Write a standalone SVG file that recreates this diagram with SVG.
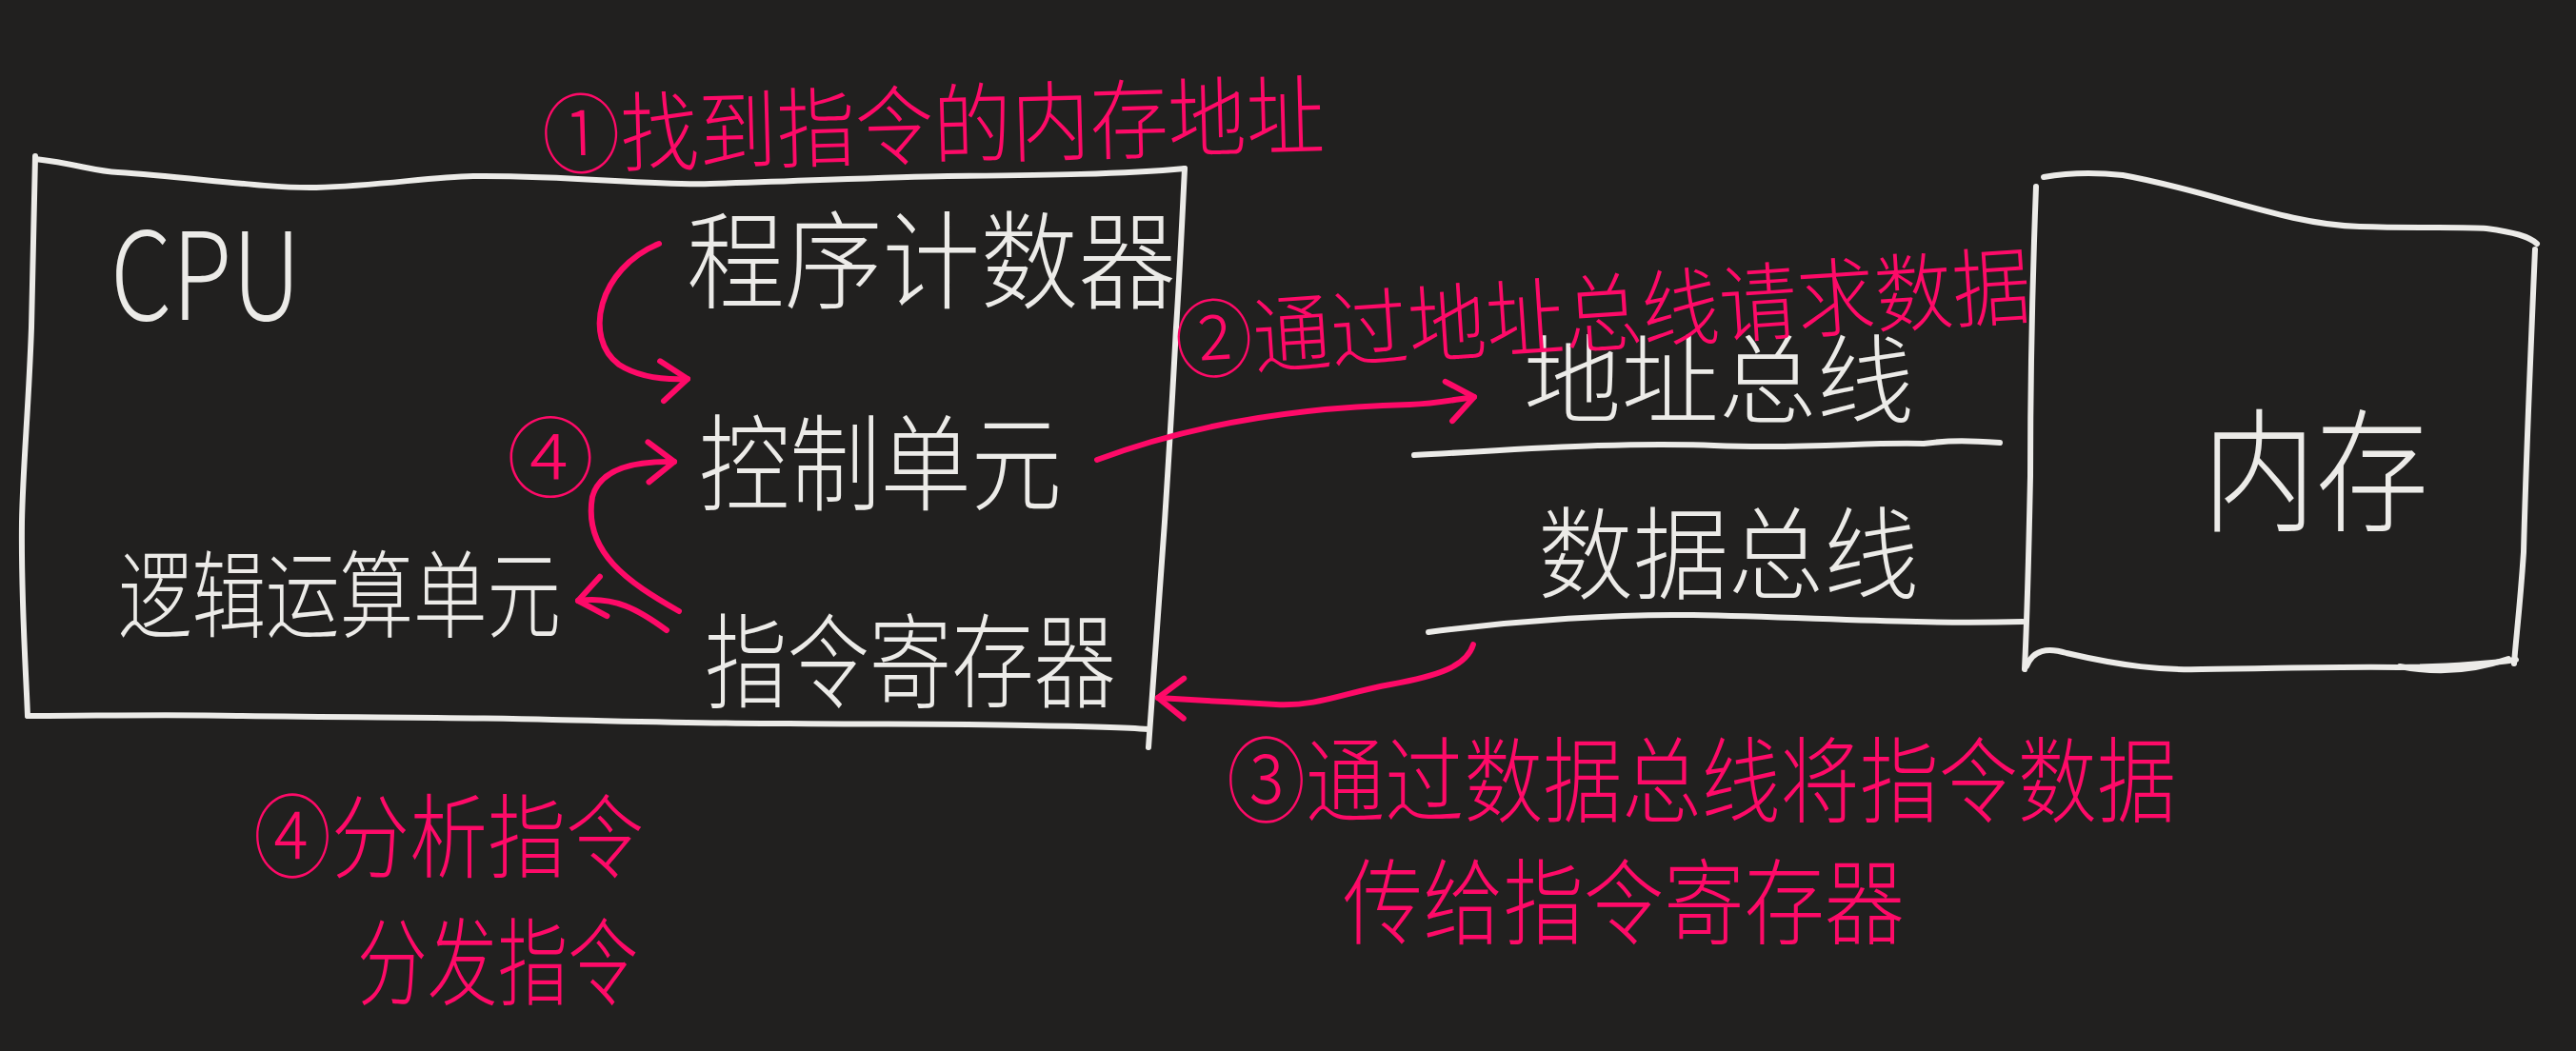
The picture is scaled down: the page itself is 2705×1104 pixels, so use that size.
<svg xmlns="http://www.w3.org/2000/svg" width="2705" height="1104" viewBox="0 0 2705 1104">
<style>
.w{fill:none;stroke:#ecebe8;stroke-width:6;stroke-linecap:round;stroke-linejoin:round}
.p{fill:none;stroke:#fe0a68;stroke-width:6;stroke-linecap:round;stroke-linejoin:round}
.tw{fill:#ecebe8;font-family:"Noto Sans CJK SC","Noto Sans",sans-serif;font-weight:300}
.tp{fill:#fe0a68;font-family:"Noto Sans CJK SC","Noto Sans",sans-serif;font-weight:300}
</style>
<defs>
<marker id="ah" viewBox="-40 -30 50 60" markerWidth="50" markerHeight="60" refX="0" refY="0" orient="auto" markerUnits="userSpaceOnUse">
<path d="M-28,-20 L0,0 L-26,22" fill="none" stroke="#fe0a68" stroke-width="6" stroke-linecap="round" stroke-linejoin="round"/>
</marker>
</defs>
<rect width="2705" height="1104" fill="#21201f"/>

<g id="cpu">
<path class="w" d="M37,167 C80,172 100,180 124,181 C200,186 280,198 332,197 C400,195 450,186 497,185 C600,184 680,195 746,193 C850,190 930,186 995,185 C1100,184 1180,183 1244,177"/>
<path class="w" d="M1244,177 C1240,260 1238,300 1235,344 C1230,440 1226,500 1223,548 C1216,650 1210,720 1206,785"/>
<path class="w" d="M29,752 C100,752 180,750 249,752 C380,754 480,753 580,756 C680,758 760,760 829,760 C920,761 1000,760 1078,762 C1140,763 1180,764 1206,766"/>
<path class="w" d="M37,164 C35,230 34,290 33,344 C30,430 24,490 23,548 C22,630 27,700 29,752"/>
<text class="tw" x="116" y="336" font-size="128" textLength="200" lengthAdjust="spacingAndGlyphs">CPU</text>
</g>

<g id="pc"><text class="tw" x="721" y="316" font-size="112" textLength="514" lengthAdjust="spacingAndGlyphs">程序计数器</text></g>
<g id="cu"><text class="tw" x="734" y="528" font-size="110" textLength="381" lengthAdjust="spacingAndGlyphs">控制单元</text></g>
<g id="alu"><text class="tw" x="124" y="662" font-size="100" textLength="465" lengthAdjust="spacingAndGlyphs">逻辑运算单元</text></g>
<g id="ir"><text class="tw" x="740" y="735" font-size="108" textLength="432" lengthAdjust="spacingAndGlyphs">指令寄存器</text></g>

<g id="addrbus">
<text class="tw" x="1600" y="437" font-size="102" textLength="410" lengthAdjust="spacingAndGlyphs">地址总线</text>
<path class="w" d="M1485,478 C1600,472 1700,464 1800,468 C1900,472 1960,464 2020,466 C2050,462 2070,463 2100,465"/>
</g>
<g id="databus">
<text class="tw" x="1615" y="621" font-size="106" textLength="400" lengthAdjust="spacingAndGlyphs">数据总线</text>
<path class="w" d="M1500,664 C1600,651 1700,645 1773,646 C1900,648 2000,656 2124,653"/>
</g>

<g id="memory">
<path class="w" d="M2146,186 C2180,180 2210,182 2229,184 C2320,200 2400,236 2478,238 C2540,240 2590,238 2611,240 C2640,244 2655,248 2664,256"/>
<path class="w" d="M2662,262 C2656,400 2652,500 2650,580 C2646,640 2642,670 2640,697"/>
<path class="w" d="M2138,196 C2134,300 2132,420 2132,500 C2130,600 2128,660 2126,703"/>
<path class="w" d="M2128,700 C2135,682 2150,680 2170,686 C2230,700 2270,704 2312,703 C2400,702 2460,700 2519,701 C2580,700 2620,696 2642,693"/>
<path class="w" d="M2520,700 C2560,708 2600,704 2634,692"/>
<text class="tw" x="2313" y="547" font-size="140" textLength="237" lengthAdjust="spacingAndGlyphs">内存</text>
</g>

<g id="connectors">
<path class="p" marker-end="url(#ah)" d="M692,256 C628,282 612,355 650,383 C672,397 700,399 722,398"/>
<path class="p" marker-end="url(#ah)" d="M713,642 C660,612 612,580 622,522 C630,492 665,484 708,485"/>
<path class="p" marker-end="url(#ah)" d="M700,662 C670,640 645,626 607,631"/>
<path class="p" marker-end="url(#ah)" d="M1152,483 C1240,450 1350,428 1480,425 C1510,424 1525,420 1548,417"/>
<path class="p" marker-end="url(#ah)" d="M1547,677 C1540,700 1510,710 1460,719 C1410,728 1385,742 1340,740 C1300,738 1250,735 1216,733"/>
</g>

<g id="step1"><text class="tp" x="570" y="176" font-size="92" textLength="822" lengthAdjust="spacingAndGlyphs" transform="rotate(-1.5 570 176)">①找到指令的内存地址</text></g>
<g id="step2"><text class="tp" x="1236" y="392" font-size="90" textLength="900" lengthAdjust="spacingAndGlyphs" transform="rotate(-3.8 1236 392)">②通过地址总线请求数据</text></g>
<g id="step3">
<text class="tp" x="1288" y="856" font-size="98" textLength="997" lengthAdjust="spacingAndGlyphs">③通过数据总线将指令数据</text>
<text class="tp" x="1410" y="984" font-size="98" textLength="590" lengthAdjust="spacingAndGlyphs">传给指令寄存器</text>
</g>
<g id="step4">
<text class="tp" x="578" y="515" font-size="92" text-anchor="middle">④</text>
<text class="tp" x="266" y="914" font-size="96" textLength="410" lengthAdjust="spacingAndGlyphs">④分析指令</text>
<text class="tp" x="375" y="1048" font-size="100" textLength="295" lengthAdjust="spacingAndGlyphs">分发指令</text>
</g>
</svg>
